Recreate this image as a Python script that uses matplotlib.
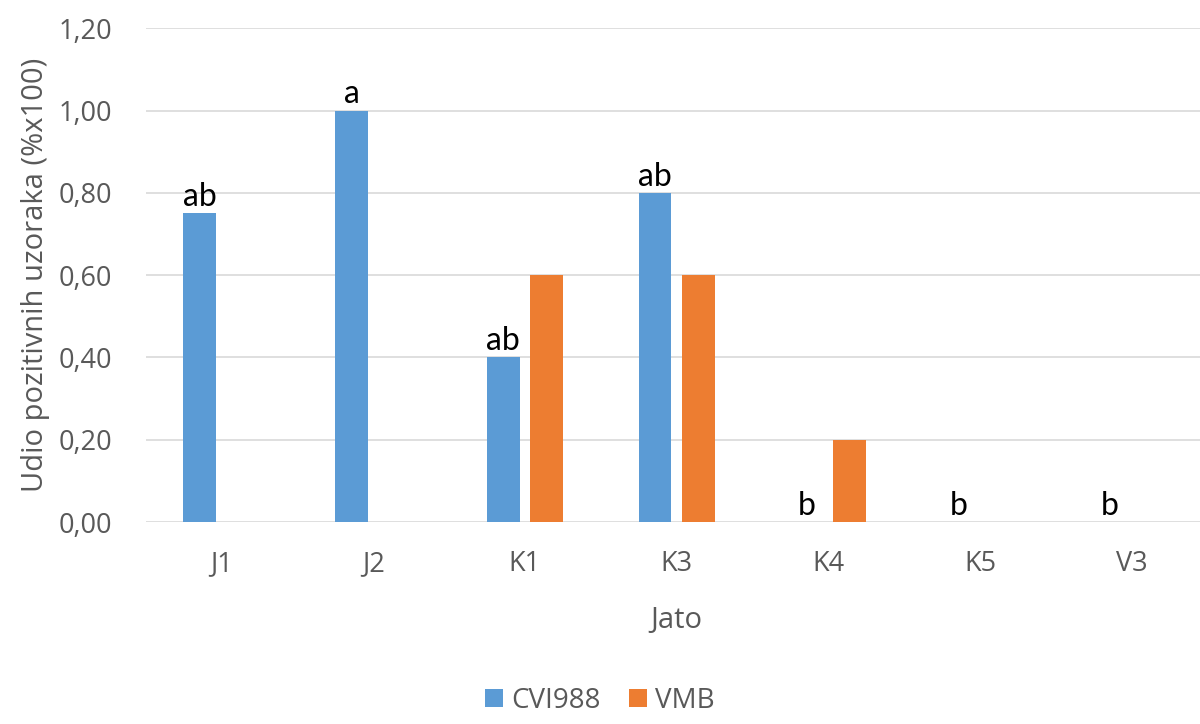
import numpy as np
from matplotlib import pyplot as plt

categories = ['J1', 'J2', 'K1', 'K3', 'K4', 'K5', 'V3']
cvi988 = [0.75, 1.00, 0.40, 0.80, 0.0, 0.0, 0.0]
vmb = [0.0, 0.0, 0.60, 0.60, 0.20, 0.0, 0.0]
letters = ['ab', 'a', 'ab', 'ab', 'b', 'b', 'b']
yticks = [0.0, 0.2, 0.4, 0.6, 0.8, 1.0, 1.2]

BLUE = '#5B9BD5'
ORANGE = '#ED7D31'
GRAY = '#595959'

plt.rcParams['font.family'] = ['Open Sans', 'DejaVu Sans']

fig = plt.figure(figsize=(12, 7.24), dpi=100)
ax = fig.add_axes([0.1213, 0.279, 0.885, 0.682])

x = np.arange(len(categories))
w = 0.217
off = 0.142
ax.bar(x - off, cvi988, w, color=BLUE, label='CVI988', zorder=3)
ax.bar(x + off, vmb, w, color=ORANGE, label='VMB', zorder=3)

# significance letters above CVI988 bars
for xi, v, t in zip(x, cvi988, letters):
    ax.text(xi - off, v + 0.003, t, ha='center', va='bottom', fontsize=23,
            color='black', family=['Lato', 'DejaVu Sans'], zorder=4)

ax.set_xlim(-0.5, len(categories) - 0.5)
ax.set_ylim(0, 1.2)
ax.set_yticks(yticks)
ax.set_yticklabels(['{:.2f}'.format(v).replace('.', ',') for v in yticks])
ax.set_xticks(x)
ax.set_xticklabels(categories)
ax.tick_params(axis='both', length=0, labelsize=19.5, labelcolor=GRAY)
ax.tick_params(axis='x', pad=20)
ax.tick_params(axis='y', pad=24)
ax.grid(axis='y', color='#D9D9D9', linewidth=1.2, zorder=0)
for s in ax.spines.values():
    s.set_visible(False)

ax.set_xlabel('Jato', fontsize=21, color=GRAY, labelpad=20)
ax.set_ylabel('Udio pozitivnih uzoraka (%x100)', fontsize=21, color=GRAY, labelpad=6)

fig.legend(loc='lower center', bbox_to_anchor=(0.5, -0.022), ncol=2, frameon=False,
           fontsize=20, labelcolor=GRAY, handlelength=0.65, handleheight=0.65,
           handletextpad=0.3, columnspacing=1.0)

plt.savefig('out.png', dpi=100)
